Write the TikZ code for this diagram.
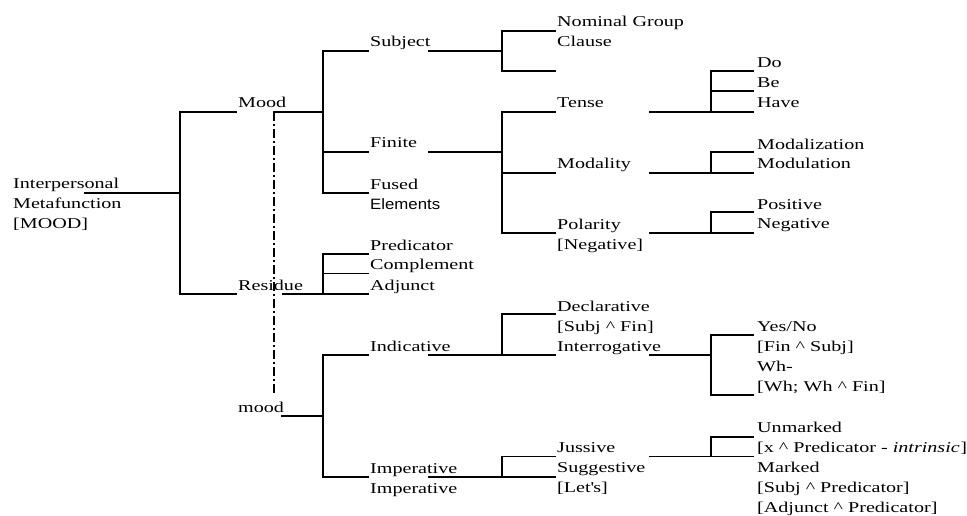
\documentclass[tikz,border=0pt]{standalone}
\usepackage{fontspec}
\setmainfont{Liberation Serif}[FakeStretch=1.34]
\newfontfamily\elemfont{Liberation Sans}[FakeStretch=1.12]
\begin{document}
\begin{tikzpicture}[x=1pt,y=-1pt,
  lbl/.style={anchor=base west,inner sep=0pt,align=left,font=\fontsize{15}{20}\selectfont},
  ln/.style={line width=1.9pt,line cap=rect},
  dd/.style={line width=1.9pt,dash pattern=on 9pt off 3pt on 2pt off 3pt}]
\useasboundingbox (0,0) rectangle (967,516);
% ---------- text (anchor = baseline of the last line) ----------
\node[lbl] (ip) at (13,229) {Interpersonal\\Metafunction\\{[MOOD]}};
\node[lbl] (Mood) at (238,108) {Mood};
\node[lbl] (Res) at (238,290) {Residue};
\node[lbl] (mood) at (238,412) {mood};
\node[lbl] (subj) at (370,47) {Subject};
\node[lbl] (fin) at (370,148) {Finite};
\node[lbl] (fus) at (370,209) {Fused\\{\elemfont Elements}};
\node[lbl] (pred) at (370,290) {Predicator\\Complement\\Adjunct};
\node[lbl] (ind) at (370,351) {Indicative};
\node[lbl] (imp) at (370,493) {Imperative\\Imperative};
\node[lbl] (ng) at (557,47) {Nominal Group\\Clause};
\node[lbl] (tense) at (557,108) {Tense};
\node[lbl] (modal) at (557,169) {Modality};
\node[lbl] (pol) at (557,249) {Polarity\\{[Negative]}};
\node[lbl] (decl) at (557,351) {Declarative\\{[Subj \^{} Fin]}\\Interrogative};
\node[lbl] (jus) at (557,492) {Jussive\\Suggestive\\{[Let\textquotesingle s]}};
\node[lbl] (dbh) at (757,108) {Do\\Be\\Have};
\node[lbl] (mz) at (757,169) {Modalization\\Modulation};
\node[lbl] (pn) at (757,229) {Positive\\Negative};
\node[lbl] (yn) at (757,391) {Yes/No\\{[Fin \^{} Subj]}\\Wh-\\{[Wh; Wh \^{} Fin]}};
\node[lbl] (um) at (757,512) {Unmarked\\{[x \^{} Predicator - \textit{intrinsic}\kern0.5pt]}\\Marked\\{[Subj \^{} Predicator]}\\{[Adjunct \^{} Predicator]}};
% ---------- junction coordinates ----------
\coordinate (a0) at (85,193);  \coordinate (a1) at (180,193);
\coordinate (a2) at (180,112); \coordinate (a3) at (180,294);
\coordinate (aM) at (236,112); \coordinate (aR) at (236,294);
% Mood
\coordinate (m0) at (274,112); \coordinate (m1) at (323,112);
\coordinate (m2) at (323,51);  \coordinate (m3) at (323,152); \coordinate (m4) at (323,193);
\coordinate (m2e) at (368,51); \coordinate (m3e) at (368,152); \coordinate (m4e) at (368,193);
% Residue
\coordinate (r0) at (283,294); \coordinate (r1) at (323,294); \coordinate (r2) at (323,254); \coordinate (r3) at (323,273.5);
\coordinate (r1e) at (368,294); \coordinate (r2e) at (368,254); \coordinate (r3e) at (368,273.5);
% dash-dot
\coordinate (dd0) at (274,112); \coordinate (dd1) at (274,393);
% mood
\coordinate (o0) at (282,416); \coordinate (o1) at (323,416);
\coordinate (o2) at (323,355); \coordinate (o3) at (323,477);
\coordinate (o2e) at (368,355); \coordinate (o3e) at (368,477);
% Subject
\coordinate (s0) at (429,51); \coordinate (s1) at (502,51);
\coordinate (s2) at (502,31); \coordinate (s3) at (502,71);
\coordinate (s2e) at (555,31); \coordinate (s3e) at (555,71);
% Finite
\coordinate (f0) at (429,152); \coordinate (f1) at (502,152);
\coordinate (f2) at (502,112); \coordinate (f3) at (502,173); \coordinate (f4) at (502,233);
\coordinate (f2e) at (555,112); \coordinate (f3e) at (555,173); \coordinate (f4e) at (555,233);
% Indicative
\coordinate (i0) at (429,355); \coordinate (i1) at (502,355); \coordinate (i2) at (502,314);
\coordinate (i1e) at (555,355); \coordinate (i2e) at (555,314);
% Imperative
\coordinate (p0) at (429,477); \coordinate (p1) at (502,477); \coordinate (p2) at (502,456.5);
\coordinate (p1e) at (555,477); \coordinate (p2e) at (555,456.5);
% Tense
\coordinate (t0) at (650,112); \coordinate (t1) at (711,112);
\coordinate (t2) at (711,71); \coordinate (t3) at (711,91);
\coordinate (t1e) at (753,112); \coordinate (t2e) at (753,71); \coordinate (t3e) at (753,91);
% Modality
\coordinate (q0) at (650,173); \coordinate (q1) at (711,173); \coordinate (q2) at (711,152);
\coordinate (q1e) at (753,173); \coordinate (q2e) at (753,152);
% Polarity
\coordinate (y0) at (650,233); \coordinate (y1) at (711,233); \coordinate (y2) at (711,212);
\coordinate (y1e) at (753,233); \coordinate (y2e) at (753,212);
% Interrogative
\coordinate (g0) at (650,355); \coordinate (g1) at (711,355);
\coordinate (g2) at (711,335); \coordinate (g3) at (711,395);
\coordinate (g2e) at (753,335); \coordinate (g3e) at (753,395);
% Jussive
\coordinate (j0) at (650,456.5); \coordinate (j1) at (711,456.5); \coordinate (j2) at (711,437);
\coordinate (j1e) at (753,456.5); \coordinate (j2e) at (753,437);
% ---------- connectors ----------
\draw[ln] (a0) -- (a1);
\draw[ln] (aM) -- (a2) -- (a3) -- (aR);
\draw[ln] (m0) -- (m1);
\draw[ln] (m2e) -- (m2) -- (m4) -- (m4e);
\draw[ln] (m3) -- (m3e);
\draw[ln] (r0) -- (r1e);
\draw[ln] (r1) -- (r2) -- (r2e);
\draw[ln] (r3) -- (r3e);
\draw[dd] (dd0) -- (dd1);
\draw[ln] (o0) -- (o1);
\draw[ln] (o2e) -- (o2) -- (o3) -- (o3e);
\draw[ln] (s0) -- (s1);
\draw[ln] (s2e) -- (s2) -- (s3) -- (s3e);
\draw[ln] (f0) -- (f1);
\draw[ln] (f2e) -- (f2) -- (f4) -- (f4e);
\draw[ln] (f3) -- (f3e);
\draw[ln] (i0) -- (i1e);
\draw[ln] (i1) -- (i2) -- (i2e);
\draw[ln] (p0) -- (p1e);
\draw[ln] (p1) -- (p2) -- (p2e);
\draw[ln] (t0) -- (t1e);
\draw[ln] (t1) -- (t2) -- (t2e);
\draw[ln] (t3) -- (t3e);
\draw[ln] (q0) -- (q1e);
\draw[ln] (q1) -- (q2) -- (q2e);
\draw[ln] (y0) -- (y1e);
\draw[ln] (y1) -- (y2) -- (y2e);
\draw[ln] (g0) -- (g1);
\draw[ln] (g2e) -- (g2) -- (g3) -- (g3e);
\draw[ln] (j0) -- (j1e);
\draw[ln] (j1) -- (j2) -- (j2e);
\end{tikzpicture}
\end{document}
